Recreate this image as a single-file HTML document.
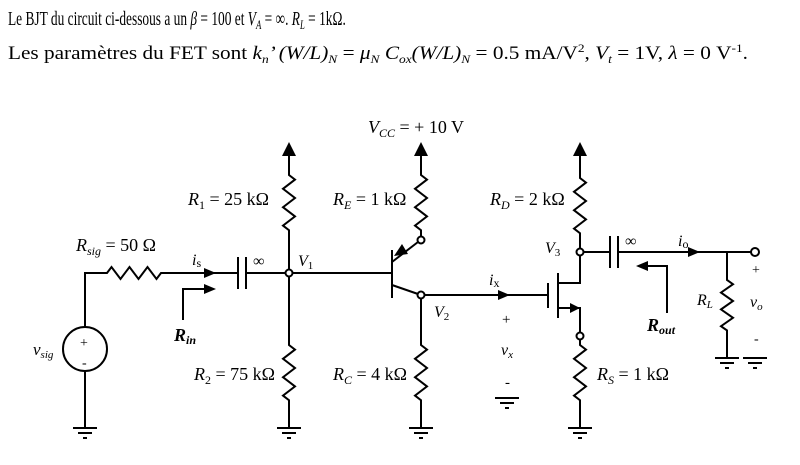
<!DOCTYPE html>
<html><head><meta charset="utf-8"><style>
html,body{margin:0;padding:0;background:#fff;}
svg{display:block;}
text{font-family:"Liberation Serif",serif;fill:#000;}
</style></head><body>
<svg width="800" height="465" viewBox="0 0 800 465" xmlns="http://www.w3.org/2000/svg">
<defs>
<g id="gnd"><line x1="-12" y1="0" x2="12" y2="0" stroke="#000" stroke-width="2"/><line x1="-7" y1="5" x2="7" y2="5" stroke="#000" stroke-width="2"/><line x1="-2" y1="10" x2="2" y2="10" stroke="#000" stroke-width="2"/></g>
<g id="up"><polygon points="0,-10 -7,4 7,4" fill="#000"/></g>
</defs>
<g transform="translate(8,25) scale(0.67,1)">
<text x="0" y="0" font-size="20">Le BJT du circuit ci-dessous a un <tspan font-style="italic">β</tspan> = 100 et <tspan font-style="italic">V<tspan font-size="13" dy="4">A</tspan></tspan><tspan dy="-4"> = ∞. </tspan><tspan font-style="italic">R<tspan font-size="13" dy="4">L</tspan></tspan><tspan dy="-4"> = 1kΩ.</tspan></text>
</g>
<text x="8" y="59" font-size="19" textLength="740" lengthAdjust="spacingAndGlyphs">Les paramètres du FET sont <tspan font-style="italic">k<tspan font-size="12" dy="4">n</tspan></tspan><tspan dy="-4" font-style="italic">’ (W/L)<tspan font-size="12" dy="4">N</tspan></tspan><tspan dy="-4"> = </tspan><tspan font-style="italic">μ<tspan font-size="12" dy="4">N</tspan></tspan><tspan dy="-4" font-style="italic"> C<tspan font-size="12" dy="4">ox</tspan></tspan><tspan dy="-4" font-style="italic">(W/L)<tspan font-size="12" dy="4">N</tspan></tspan><tspan dy="-4"> = 0.5 mA/V<tspan font-size="12" dy="-7">2</tspan></tspan><tspan dy="7">, </tspan><tspan font-style="italic">V<tspan font-size="12" dy="4">t</tspan></tspan><tspan dy="-4"> = 1V, </tspan><tspan font-style="italic">λ</tspan> = 0 V<tspan font-size="12" dy="-7">-1</tspan><tspan dy="7">.</tspan></text>

<g stroke="#000" stroke-width="2" fill="none">
<path d="M85,327 L85,273 L107,273 l4.5,-6 l9,12 l9,-12 l9,12 l9,-12 l9,12 l4.5,-6 L238,273"/>
<circle cx="85" cy="349" r="22"/>
<path d="M85,371 L85,428"/>
<line x1="238" y1="257" x2="238" y2="289"/><line x1="246" y1="257" x2="246" y2="289"/>
<path d="M246,273 L286,273"/>
<path d="M183,320 L183,289 L205,289"/>
<path d="M289,150 L289,175 l6,4.6 l-12,9.2 l12,9.2 l-12,9.2 l12,9.2 l-12,9.2 l6,4.6 L289,269"/>
<path d="M289,277 L289,345 l6,4.6 l-12,9.2 l12,9.2 l-12,9.2 l12,9.2 l-12,9.2 l6,4.6 L289,428"/>
<path d="M292,273 L392,273"/>
<line x1="392" y1="250" x2="392" y2="298"/>
<path d="M392,262 L418,242"/>
<path d="M392,285 L418,294"/>
<path d="M421,150 L421,175 l6,4.6 l-12,9.2 l12,9.2 l-12,9.2 l12,9.2 l-12,9.2 l6,4.6 L421,237"/>
<path d="M421,298 L421,345 l6,4.6 l-12,9.2 l12,9.2 l-12,9.2 l12,9.2 l-12,9.2 l6,4.6 L421,428"/>
<path d="M424,295 L548,295"/>
<line x1="548" y1="283" x2="548" y2="308"/>
<line x1="558" y1="273" x2="558" y2="318"/>
<path d="M558,283 L580,283 L580,255"/>
<path d="M558,308 L580,308 L580,333"/>
<path d="M580,150 L580,178 l6,4.6 l-12,9.2 l12,9.2 l-12,9.2 l12,9.2 l-12,9.2 l6,4.6 L580,249"/>
<path d="M580,339 L580,345 l6,4.6 l-12,9.2 l12,9.2 l-12,9.2 l12,9.2 l-12,9.2 l6,4.6 L580,428"/>
<path d="M583,252 L610,252"/>
<line x1="610" y1="236" x2="610" y2="268"/><line x1="618" y1="236" x2="618" y2="268"/>
<path d="M618,252 L752,252"/>
<path d="M667,313 L667,266 L645,266"/>
<path d="M727,252 L727,280 l6,4.2 l-12,8.4 l12,8.4 l-12,8.4 l12,8.4 l-12,8.4 l6,4.2 L727,358"/>
<circle cx="289" cy="273" r="3.5" fill="#fff"/>
<circle cx="421" cy="240" r="3.5" fill="#fff"/>
<circle cx="421" cy="295" r="3.5" fill="#fff"/>
<circle cx="580" cy="252" r="3.5" fill="#fff"/>
<circle cx="580" cy="336" r="3.5" fill="#fff"/>
<circle cx="755" cy="252" r="4" fill="#fff"/>
</g>
<polygon points="216,273 204,268 204,278" fill="#000"/>
<polygon points="216,289 204,284 204,294" fill="#000"/>
<polygon points="510,295 498,290 498,300" fill="#000"/>
<polygon points="700,252 688,247 688,257" fill="#000"/>
<polygon points="636,266 648,261 648,271" fill="#000"/>
<polygon points="580,308 570,303 570,313" fill="#000"/>
<polygon points="394,256 402,244 408,254" fill="#000"/>
<use href="#up" x="289" y="152"/>
<use href="#up" x="421" y="152"/>
<use href="#up" x="580" y="152"/>
<use href="#gnd" x="85" y="428"/>
<use href="#gnd" x="289" y="428"/>
<use href="#gnd" x="421" y="428"/>
<use href="#gnd" x="580" y="428"/>
<use href="#gnd" x="507" y="398"/>
<use href="#gnd" x="727" y="358"/>
<use href="#gnd" x="755" y="358"/>
<text x="368" y="133" font-size="18"><tspan font-style="italic">V<tspan font-size="12" dy="4">CC</tspan></tspan><tspan dy="-4"> = + 10 V</tspan></text>
<text x="188" y="205" font-size="18"><tspan font-style="italic">R</tspan><tspan font-size="12" dy="4">1</tspan><tspan dy="-4"> = 25 kΩ</tspan></text>
<text x="333" y="205" font-size="18"><tspan font-style="italic">R<tspan font-size="12" dy="4">E</tspan></tspan><tspan dy="-4"> = 1 kΩ</tspan></text>
<text x="490" y="205" font-size="18"><tspan font-style="italic">R<tspan font-size="12" dy="4">D</tspan></tspan><tspan dy="-4"> = 2 kΩ</tspan></text>
<text x="76" y="251" font-size="18"><tspan font-style="italic">R<tspan font-size="12" dy="4">sig</tspan></tspan><tspan dy="-4"> = 50 Ω</tspan></text>
<text x="192" y="265" font-size="16" font-style="italic">i<tspan font-style="normal" font-size="12" dy="2">s</tspan></text>
<text x="253" y="266" font-size="16">∞</text>
<text x="298" y="266" font-size="16" font-style="italic">V<tspan font-style="normal" font-size="11" dy="3">1</tspan></text>
<text x="545" y="253" font-size="16" font-style="italic">V<tspan font-style="normal" font-size="11" dy="3">3</tspan></text>
<text x="625" y="246" font-size="16">∞</text>
<text x="678" y="246" font-size="16" font-style="italic">i<tspan font-style="normal" font-size="12" dy="2">o</tspan></text>
<text x="489" y="285" font-size="16" font-style="italic">i<tspan font-style="normal" font-size="12" dy="2">x</tspan></text>
<text x="434" y="317" font-size="16" font-style="italic">V<tspan font-style="normal" font-size="11" dy="3">2</tspan></text>
<text x="502" y="324" font-size="15">+</text>
<text x="501" y="355" font-size="16" font-style="italic">v<tspan font-size="11" dy="3">x</tspan></text>
<text x="505" y="387" font-size="15">-</text>
<text x="174" y="341" font-size="18" font-style="italic" font-weight="bold">R<tspan font-size="12" dy="3">in</tspan></text>
<text x="647" y="331" font-size="18" font-style="italic" font-weight="bold">R<tspan font-size="12" dy="3">out</tspan></text>
<text x="33" y="355" font-size="17" font-style="italic">v<tspan font-size="11" dy="3">sig</tspan></text>
<text x="80" y="347" font-size="14">+</text>
<text x="82" y="367" font-size="14">-</text>
<text x="194" y="380" font-size="18"><tspan font-style="italic">R</tspan><tspan font-size="12" dy="4">2</tspan><tspan dy="-4"> = 75 kΩ</tspan></text>
<text x="333" y="380" font-size="18"><tspan font-style="italic">R<tspan font-size="12" dy="4">C</tspan></tspan><tspan dy="-4"> = 4 kΩ</tspan></text>
<text x="597" y="380" font-size="18"><tspan font-style="italic">R<tspan font-size="12" dy="4">S</tspan></tspan><tspan dy="-4"> = 1 kΩ</tspan></text>
<text x="697" y="305" font-size="16" font-style="italic">R<tspan font-size="11" dy="3">L</tspan></text>
<text x="752" y="274" font-size="14">+</text>
<text x="750" y="307" font-size="16" font-style="italic">v<tspan font-size="11" dy="3">o</tspan></text>
<text x="754" y="343" font-size="14">-</text>
</svg>
</body></html>
